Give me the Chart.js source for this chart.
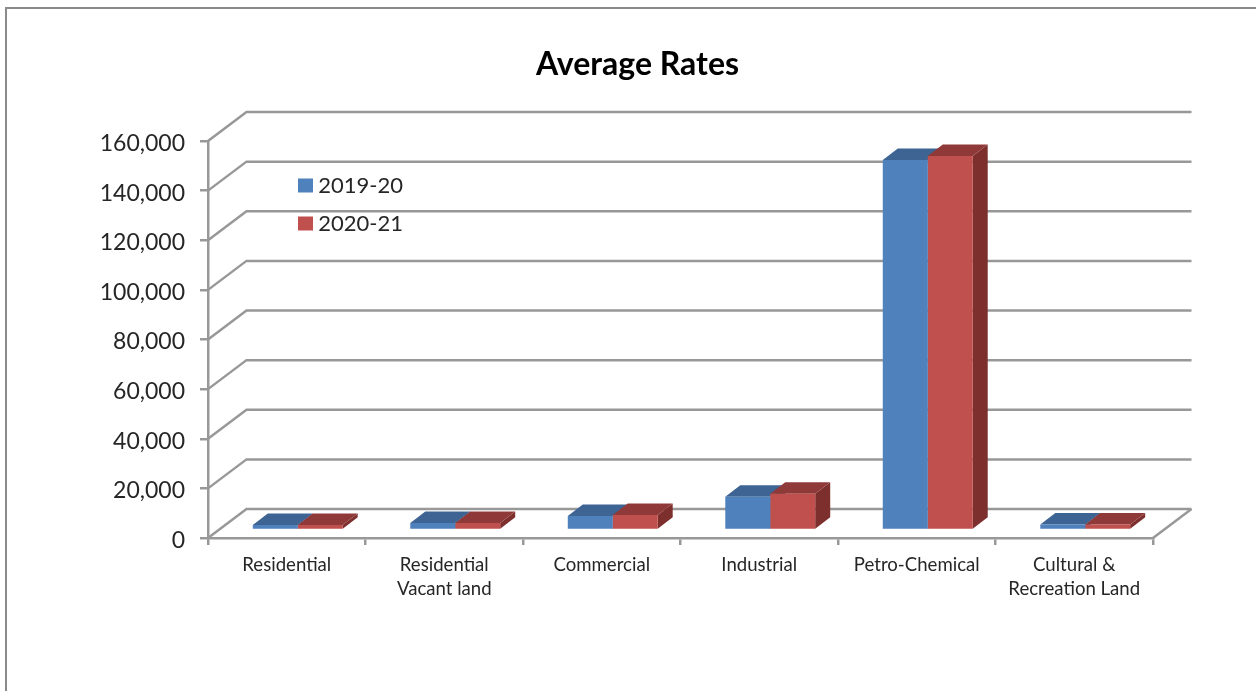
<!DOCTYPE html>
<html>
<head>
<meta charset="utf-8">
<title>Average Rates</title>
<script src="https://cdn.jsdelivr.net/npm/chart.js@4/dist/chart.umd.min.js"></script>
<style>
  html, body { margin: 0; padding: 0; background: #fff; overflow: hidden; }
  #frame { position: absolute; left: 5px; top: 7px; right: 0; bottom: 0; border-top: 2px solid #8a8a8a; border-left: 2px solid #8a8a8a; }
  #myChart { position: absolute; left: 0; top: 0; }
</style>
</head>
<body>
<div id="frame"></div>
<canvas id="myChart" width="1256" height="691"></canvas>
<script>
const categories = [
  'Residential',
  ['Residential', 'Vacant land'],
  'Commercial',
  'Industrial',
  'Petro-Chemical',
  ['Cultural &', 'Recreation Land'],
];
const rates2019 = [2000, 2800, 5600, 13400, 149100, 2200];
const rates2020 = [2000, 2800, 6000, 14600, 150700, 2200];
const yTicks = [0, 20000, 40000, 60000, 80000, 100000, 120000, 140000, 160000];

const GRID = '#989898';
const WALL_DX = 38.5, WALL_DY = -29; // floor depth, front edge to back wall
const BAR_DX = 11, BAR_DY = -8;      // how far the bars stand behind the front edge
const BOX_DX = 15, BOX_DY = -11.5;   // depth of one bar

const seriesFaces = [
  { top: '#3d6493', side: '#355780' },
  { top: '#8f3a38', side: '#7c2f2d' },
];

function face(ctx, points, color) {
  ctx.fillStyle = color;
  ctx.beginPath();
  points.forEach(([x, y], i) => (i ? ctx.lineTo(x, y) : ctx.moveTo(x, y)));
  ctx.closePath();
  ctx.fill();
}

// gridlines on the back wall, plus the floor's right edge
const wallPlugin = {
  id: 'wall',
  beforeDatasetsDraw(chart) {
    const { ctx, chartArea: { left, right, bottom } } = chart;
    const y = chart.scales.y;
    ctx.save();
    ctx.strokeStyle = GRID;
    ctx.lineWidth = 2.5;
    ctx.lineJoin = 'miter';
    y.ticks.forEach((t) => {
      const py = y.getPixelForValue(t.value);
      ctx.beginPath();
      ctx.moveTo(left, py);
      ctx.lineTo(left + WALL_DX, py + WALL_DY);
      ctx.lineTo(right + WALL_DX, py + WALL_DY);
      ctx.stroke();
    });
    ctx.beginPath();
    ctx.moveTo(right, bottom);
    ctx.lineTo(right + WALL_DX, bottom + WALL_DY);
    ctx.stroke();
    ctx.restore();
  },
};

// top and side faces go down first, the library then paints the fronts over them
const boxPlugin = {
  id: 'box',
  beforeDatasetsDraw(chart) {
    const { ctx } = chart;
    ctx.save();
    ctx.translate(BAR_DX, BAR_DY);
    chart.data.datasets.forEach((ds, i) => {
      chart.getDatasetMeta(i).data.forEach((bar) => {
        const { x, y, base, width } = bar.getProps(['x', 'y', 'base', 'width'], true);
        const l = x - width / 2, r = x + width / 2;
        face(ctx, [[r, y], [r + BOX_DX, y + BOX_DY], [r + BOX_DX, base + BOX_DY], [r, base]], seriesFaces[i].side);
        face(ctx, [[l, y], [l + BOX_DX, y + BOX_DY], [r + BOX_DX, y + BOX_DY], [r, y]], seriesFaces[i].top);
      });
    });
  },
  afterDatasetsDraw(chart) {
    chart.ctx.restore();
  },
};

// title sits a little right of the canvas centre, legend sits inside the plot
const placePlugin = {
  id: 'place',
  beforeDraw(chart) {
    chart.titleBlock.left = 19;
    chart.titleBlock.right = 1256;
    const legend = chart.legend;
    legend.left = 282;
    legend.right = 403;
    legend.top = 158.5;
    legend.bottom = 300;
  },
};

new Chart(document.getElementById('myChart').getContext('2d'), {
  type: 'bar',
  data: {
    labels: categories,
    datasets: [
      { label: '2019-20', data: rates2019, backgroundColor: '#4f81bd', clip: false },
      { label: '2020-21', data: rates2020, backgroundColor: '#c0504d', clip: false },
    ],
  },
  options: {
    responsive: false,
    animation: false,
    categoryPercentage: 0.571,
    barPercentage: 1,
    layout: { padding: { left: 0, right: 103, top: 0, bottom: 0 } },
    plugins: {
      title: {
        display: true,
        text: 'Average Rates',
        color: '#000',
        font: { family: 'Lato', size: 32, weight: 'bold' },
        padding: { top: 45.8, bottom: 56.8 },
      },
      legend: {
        position: 'chartArea',
        align: 'start',
        labels: {
          boxWidth: 15,
          boxHeight: 14,
          padding: 16,
          textAlign: 'right',
          color: '#262626',
          font: { family: 'Lato', size: 22 },
        },
      },
      tooltip: { enabled: false },
    },
    scales: {
      x: {
        afterFit(scale) { scale.height = 153; },
        grid: { drawOnChartArea: false, color: GRID, lineWidth: 2.5, tickLength: 7 },
        border: { color: GRID, width: 2.5 },
        ticks: {
          autoSkip: false,
          maxRotation: 0,
          padding: 8,
          color: '#262626',
          font: { family: 'Lato', size: 18.6, lineHeight: '24px' },
        },
      },
      y: {
        min: 0,
        max: 160000,
        afterFit(scale) { scale.width = 208; },
        afterBuildTicks(scale) { scale.ticks = yTicks.map((value) => ({ value })); },
        grid: { drawOnChartArea: false, color: GRID, lineWidth: 2.5, tickLength: 8 },
        border: { color: GRID, width: 2.5 },
        ticks: {
          padding: 15,
          color: '#262626',
          // empty first line nudges the number down a couple of pixels
          font: { family: 'Lato', size: 23, lineHeight: '5px' },
          callback: (v) => ['', v.toLocaleString('en-US')],
        },
      },
    },
  },
  plugins: [wallPlugin, boxPlugin, placePlugin],
});
</script>
</body>
</html>
